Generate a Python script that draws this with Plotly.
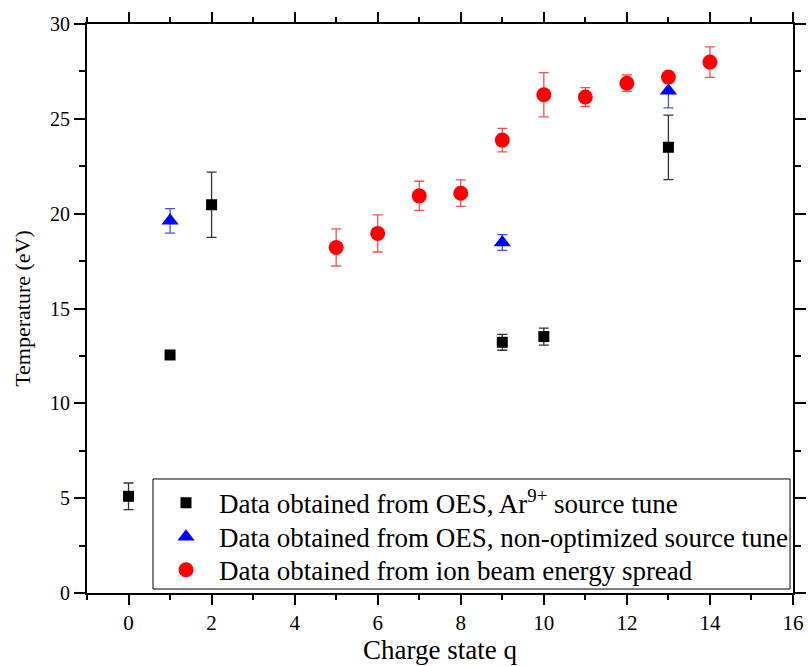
import plotly.graph_objects as go

# Data: OES, Ar9+ source tune (black squares)
q_oes = [0, 1, 2, 9, 10, 13]
t_oes = [5.1, 12.55, 20.47, 13.22, 13.52, 23.5]
e_oes = [0.7, 0.12, 1.72, 0.42, 0.45, 1.7]

# Data: OES, non-optimized source tune (blue triangles)
q_non = [1, 9, 13]
t_non = [19.62, 18.48, 26.48]
e_non = [0.65, 0.42, 0.9]

# Data: ion beam energy spread (red circles)
q_ion = [5, 6, 7, 8, 9, 10, 11, 12, 13, 14]
t_ion = [18.22, 18.96, 20.94, 21.08, 23.88, 26.27, 26.15, 26.88, 27.2, 27.99]
e_ion = [0.98, 0.98, 0.77, 0.7, 0.62, 1.17, 0.5, 0.43, 0.2, 0.8]

x_ticks = [0, 2, 4, 6, 8, 10, 12, 14, 16]
y_ticks = [0, 5, 10, 15, 20, 25, 30]

serif = "Liberation Serif, Times New Roman, serif"

fig = go.Figure()
fig.add_trace(go.Scatter(
    x=q_oes, y=t_oes, mode="markers",
    name="Data obtained from OES, Ar<sup>9+</sup> source tune",
    marker=dict(symbol="square", size=11, color="black"),
    error_y=dict(type="data", array=e_oes, color="#333333", thickness=1.3, width=5),
    legend="legend",
))
fig.add_trace(go.Scatter(
    x=q_non, y=t_non, mode="markers",
    name="Data obtained from OES, non-optimized source tune",
    marker=dict(symbol="triangle-up", size=15, color="#0000ff"),
    error_y=dict(type="data", array=e_non, color="#4a4aff", thickness=1.3, width=5),
    legend="legend2",
))
fig.add_trace(go.Scatter(
    x=q_ion, y=t_ion, mode="markers",
    name="Data obtained from ion beam energy spread",
    marker=dict(symbol="circle", size=15, color="#ff0000"),
    error_y=dict(type="data", array=e_ion, color="#ff4d4d", thickness=1.3, width=5),
    legend="legend3",
))

axis_common = dict(showgrid=False, zeroline=False, showline=True, linecolor="black",
                   linewidth=2, tickcolor="black", tickwidth=2, automargin=False,
                   mirror="ticks")

leg_common = dict(xanchor="left", yanchor="middle", borderwidth=0,
                  bgcolor="rgba(0,0,0,0)", itemwidth=56,
                  font=dict(family=serif, size=27, color="black"))

fig.update_layout(
    width=808, height=666,
    margin=dict(l=87, r=15, t=24, b=73),
    paper_bgcolor="white", plot_bgcolor="white",
    font=dict(family=serif, size=20, color="black"),
    showlegend=True,
    legend=dict(x=0.0935, y=0.158, **leg_common),
    legend2=dict(x=0.0935, y=0.098, **leg_common),
    legend3=dict(x=0.0935, y=0.040, **leg_common),
    shapes=[dict(type="rect", xref="paper", yref="paper",
                 x0=0.0935, x1=0.9958, y0=0.007, y1=0.2004,
                 line=dict(color="black", width=1), fillcolor="rgba(0,0,0,0)")],
    xaxis=dict(
        range=[-1, 16], tickvals=x_ticks, ticks="outside", ticklen=10,
        minor=dict(dtick=1, ticks="outside", ticklen=5, tickcolor="black", tickwidth=2),
        title=dict(text="Charge state q", font=dict(family=serif, size=27, color="black"),
                   standoff=4),
        tickfont=dict(family=serif, size=21, color="black"),
        ticklabelstandoff=0,
        **axis_common,
    ),
    yaxis=dict(
        range=[0, 30], tickvals=y_ticks, ticks="outside", ticklen=11,
        minor=dict(dtick=2.5, ticks="outside", ticklen=6, tickcolor="black", tickwidth=2),
        title=dict(text="Temperature (eV)", font=dict(family=serif, size=22, color="black"),
                   standoff=13),
        tickfont=dict(family=serif, size=20, color="black"),
        ticklabelstandoff=0,
        **axis_common,
    ),
)

fig.write_html("out.html", config={"displayModeBar": False},
               post_script="document.body.style.margin='0';")
